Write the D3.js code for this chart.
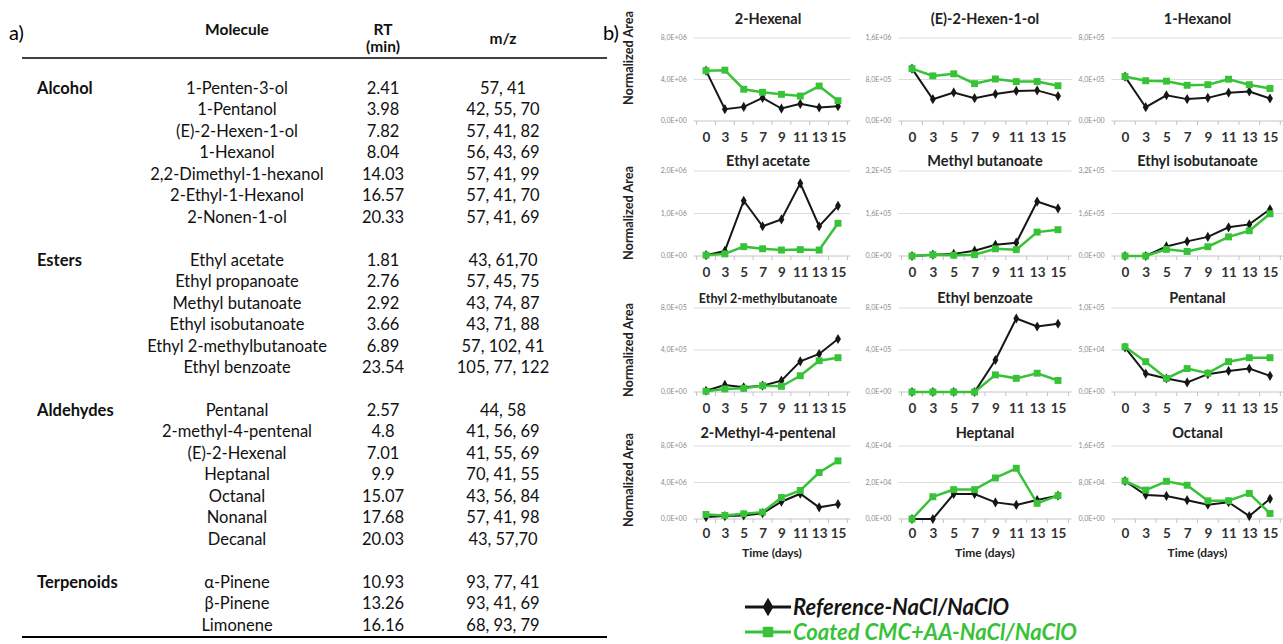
<!DOCTYPE html>
<html>
<head>
<meta charset="utf-8">
<title>Volatile compounds - table and time courses</title>
<script src="https://d3js.org/d3.v7.min.js"></script>
<style>
  body { margin: 0; background: #fff; }
  svg { display: block; font-family: Lato, "Open Sans", sans-serif; }
  .cell { font-size: 16.5px; fill: #111; }
  .head { font-size: 15.5px; font-weight: bold; fill: #111; }
  .grp { font-size: 16.5px; font-weight: bold; fill: #111; }
  .ptitle { font-weight: bold; fill: #222; }
  .ylab { font-size: 7px; fill: #8a8a8a; }
  .xaxis text { font-size: 13.5px; font-weight: bold; fill: #333; font-family: Lato, sans-serif; }
  .axtitle { font-weight: bold; fill: #222; }
</style>
</head>
<body>
<svg id="fig" width="1283" height="644"></svg>
<script>
// ---- table (a) ----
const groups = ["Alcohol", "Esters", "Aldehydes", "Terpenoids"];
const groupSizes = [7, 6, 7, 3];
const molecules = ["1-Penten-3-ol", "1-Pentanol", "(E)-2-Hexen-1-ol", "1-Hexanol", "2,2-Dimethyl-1-hexanol", "2-Ethyl-1-Hexanol", "2-Nonen-1-ol",
  "Ethyl acetate", "Ethyl propanoate", "Methyl butanoate", "Ethyl isobutanoate", "Ethyl 2-methylbutanoate", "Ethyl benzoate",
  "Pentanal", "2-methyl-4-pentenal", "(E)-2-Hexenal", "Heptanal", "Octanal", "Nonanal", "Decanal",
  "α-Pinene", "β-Pinene", "Limonene"];
const rtValues = ["2.41", "3.98", "7.82", "8.04", "14.03", "16.57", "20.33",
  "1.81", "2.76", "2.92", "3.66", "6.89", "23.54",
  "2.57", "4.8", "7.01", "9.9", "15.07", "17.68", "20.03",
  "10.93", "13.26", "16.16"];
const mzValues = ["57, 41", "42, 55, 70", "57, 41, 82", "56, 43, 69", "57, 41, 99", "57, 41, 70", "57, 41, 69",
  "43, 61,70", "57, 45, 75", "43, 74, 87", "43, 71, 88", "57, 102, 41", "105, 77, 122",
  "44, 58", "41, 56, 69", "41, 55, 69", "70, 41, 55", "43, 56, 84", "57, 41, 98", "43, 57,70",
  "93, 77, 41", "93, 41, 69", "68, 93, 79"];

// ---- charts (b) ----
const days = [0, 3, 5, 7, 9, 11, 13, 15];
const compounds = ["2-Hexenal", "(E)-2-Hexen-1-ol", "1-Hexanol",
  "Ethyl acetate", "Methyl butanoate", "Ethyl isobutanoate",
  "Ethyl 2-methylbutanoate", "Ethyl benzoate", "Pentanal",
  "2-Methyl-4-pentenal", "Heptanal", "Octanal"];
const yMaxValues = [8e6, 1.6e6, 8e5, 2e6, 3.2e5, 3.2e5, 8e5, 8e5, 1e5, 8e6, 4e4, 1.6e5];
const referenceValues = [
  [4.85e6, 1.14e6, 1.36e6, 2.23e6, 1.2e6, 1.65e6, 1.3e6, 1.43e6],
  [1.01e6, 0.42e6, 0.55e6, 0.44e6, 0.52e6, 0.58e6, 0.59e6, 0.48e6],
  [4.28e5, 1.33e5, 2.48e5, 2.11e5, 2.23e5, 2.73e5, 2.85e5, 2.17e5],
  [0.02e6, 0.12e6, 1.3e6, 0.7e6, 0.86e6, 1.71e6, 0.7e6, 1.18e6],
  [0, 0.05e5, 0.08e5, 0.2e5, 0.42e5, 0.5e5, 2.05e5, 1.79e5],
  [0, 0, 0.36e5, 0.55e5, 0.72e5, 1.08e5, 1.19e5, 1.76e5],
  [0.12e5, 0.67e5, 0.45e5, 0.6e5, 1.08e5, 2.92e5, 3.62e5, 5.05e5],
  [0, 0, 0, 0, 3.05e5, 7.0e5, 6.24e5, 6.5e5],
  [5.3e4, 2.2e4, 1.61e4, 1.14e4, 2.12e4, 2.51e4, 2.79e4, 1.92e4],
  [0.21e6, 0.32e6, 0.39e6, 0.64e6, 1.89e6, 2.77e6, 1.28e6, 1.63e6],
  [0, 0, 1.37e4, 1.37e4, 0.91e4, 0.77e4, 1.04e4, 1.28e4],
  [8.32e4, 5.27e4, 5.06e4, 4.12e4, 3.14e4, 3.69e4, 0.64e4, 4.42e4]
];
const coatedValues = [
  [4.85e6, 4.9e6, 3.06e6, 2.77e6, 2.57e6, 2.41e6, 3.37e6, 1.96e6],
  [1.01e6, 0.87e6, 0.91e6, 0.72e6, 0.81e6, 0.76e6, 0.76e6, 0.68e6],
  [4.28e5, 3.88e5, 3.84e5, 3.44e5, 3.5e5, 4.03e5, 3.5e5, 3.13e5],
  [0.02e6, 0.05e6, 0.22e6, 0.17e6, 0.14e6, 0.15e6, 0.14e6, 0.77e6],
  [0, 0.05e5, 0.03e5, 0.05e5, 0.27e5, 0.24e5, 0.9e5, 0.99e5],
  [0, 0, 0.25e5, 0.17e5, 0.35e5, 0.72e5, 0.95e5, 1.59e5],
  [0.07e5, 0.29e5, 0.35e5, 0.6e5, 0.54e5, 1.55e5, 2.98e5, 3.27e5],
  [0, 0, 0, 0, 1.63e5, 1.3e5, 1.79e5, 1.1e5],
  [5.38e4, 3.61e4, 1.61e4, 2.79e4, 2.24e4, 3.61e4, 4.08e4, 4.08e4],
  [0.5e6, 0.39e6, 0.57e6, 0.75e6, 2.35e6, 3.13e6, 5.09e6, 6.37e6],
  [0, 1.22e4, 1.61e4, 1.61e4, 2.25e4, 2.78e4, 0.86e4, 1.28e4],
  [8.32e4, 6.34e4, 8.26e4, 7.4e4, 3.99e4, 3.99e4, 5.61e4, 1.21e4]
];
const seriesNames = ["Reference-NaCl/NaClO", "Coated CMC+AA-NaCl/NaClO"];

const black = "#161616", green = "#38c238";
const svg = d3.select("#fig");

// Excel style "8,0E+06"
function sci(v) {
  if (v === 0) return "0,0E+00";
  const e = Math.floor(Math.log10(v) + 1e-9);
  const m = v / Math.pow(10, e);
  return m.toFixed(1).replace(".", ",") + "E+" + String(e).padStart(2, "0");
}

// ---------- table ----------
const tbl = svg.append("g");
tbl.append("text").attr("x", 9).attr("y", 40).style("font-size", "20px").text("a)");

const colMol = 237, colRT = 383, colMZ = 503;
tbl.append("text").attr("class", "head").attr("x", colMol).attr("y", 35).attr("text-anchor", "middle").text("Molecule");
tbl.append("text").attr("class", "head").attr("x", colRT).attr("y", 35).attr("text-anchor", "middle").text("RT");
tbl.append("text").attr("class", "head").attr("x", colRT).attr("y", 52).attr("text-anchor", "middle").text("(min)");
tbl.append("text").attr("class", "head").attr("x", colMZ).attr("y", 44).attr("text-anchor", "middle").text("m/z");
tbl.append("line").attr("x1", 22).attr("x2", 607).attr("y1", 58).attr("y2", 58).attr("stroke", "#000").attr("stroke-width", 1.5);

// build rows, with an empty line between groups
const rows = [];
let line = 0, k = 0;
groups.forEach((g, gi) => {
  for (let j = 0; j < groupSizes[gi]; j++) {
    rows.push({ group: j === 0 ? g : "", mol: molecules[k], rt: rtValues[k], mz: mzValues[k], line: line });
    k++; line++;
  }
  line++;
});
const rowY = d3.scaleLinear().domain([0, 25]).range([88, 625]);

const rg = tbl.selectAll("g.row").data(rows).join("g").attr("class", "row")
  .attr("transform", d => `translate(0,${rowY(d.line)})`);
rg.append("text").attr("class", "grp").attr("x", 37).attr("dy", "0.35em").text(d => d.group);
rg.append("text").attr("class", "cell").attr("x", colMol).attr("dy", "0.35em").attr("text-anchor", "middle").text(d => d.mol);
rg.append("text").attr("class", "cell").attr("x", colRT).attr("dy", "0.35em").attr("text-anchor", "middle").text(d => d.rt);
rg.append("text").attr("class", "cell").attr("x", colMZ).attr("dy", "0.35em").attr("text-anchor", "middle").text(d => d.mz);

tbl.append("line").attr("x1", 22).attr("x2", 607).attr("y1", 637).attr("y2", 637).attr("stroke", "#000").attr("stroke-width", 2);

// ---------- small multiples ----------
svg.append("text").attr("x", 603).attr("y", 40).style("font-size", "20px").text("b)");

const colX = [[706, 838], [912, 1058], [1125, 1270]];
const rowRange = [[121, 38], [256, 171], [392, 308], [519, 446]];
const titleY = [24, 166, 303, 438];
const ylabelY = [58, 213, 350, 480];

compounds.forEach((name, i) => {
  const r = Math.floor(i / 3), c = i % 3;
  const x = d3.scalePoint().domain(days).range(colX[c]);
  const step = x.step();
  const y = d3.scaleLinear().domain([0, yMaxValues[i]]).range(rowRange[r]);
  const left = colX[c][0] - step * 0.65, right = colX[c][1] + step * 0.65;
  const g = svg.append("g");

  const ticks = [0, yMaxValues[i] / 2, yMaxValues[i]];
  g.selectAll("line.grid").data(ticks.slice(1)).join("line").attr("class", "grid")
    .attr("x1", left).attr("x2", right).attr("y1", d => y(d)).attr("y2", d => y(d))
    .attr("stroke", "#dcdcdc").attr("stroke-width", 1);
  g.selectAll("text.ylab").data(ticks).join("text").attr("class", "ylab")
    .attr("x", left - 7).attr("y", d => y(d)).attr("dy", "0.35em").attr("text-anchor", "end")
    .text(sci);

  // x axis: baseline, ticks between categories, bold day labels
  g.append("line").attr("x1", left).attr("x2", right).attr("y1", y(0)).attr("y2", y(0))
    .attr("stroke", "#c4c4c4");
  g.selectAll("line.tk").data(d3.range(days.length + 1)).join("line").attr("class", "tk")
    .attr("x1", j => x(days[0]) - step / 2 + j * step).attr("x2", j => x(days[0]) - step / 2 + j * step)
    .attr("y1", y(0)).attr("y2", y(0) + 4).attr("stroke", "#c4c4c4");
  const ax = g.append("g").attr("class", "xaxis").attr("transform", `translate(0,${y(0)})`)
    .call(d3.axisBottom(x).tickSize(0).tickPadding(r === 3 ? 9 : 11));
  ax.select(".domain").remove();

  const ln = d3.line().x((d, j) => x(days[j])).y(d => y(d));
  g.append("path").datum(referenceValues[i]).attr("d", ln).attr("fill", "none").attr("stroke", black).attr("stroke-width", 2);
  g.selectAll("path.ref").data(referenceValues[i]).join("path").attr("class", "ref")
    .attr("d", d3.symbol(d3.symbolDiamond, 30))
    .attr("transform", (d, j) => `translate(${x(days[j])},${y(d)})`).attr("fill", black);
  g.append("path").datum(coatedValues[i]).attr("d", ln).attr("fill", "none").attr("stroke", green).attr("stroke-width", 2.5);
  g.selectAll("path.coat").data(coatedValues[i]).join("path").attr("class", "coat")
    .attr("d", d3.symbol(d3.symbolSquare, 48))
    .attr("transform", (d, j) => `translate(${x(days[j])},${y(d)})`).attr("fill", green);

  g.append("text").attr("class", "ptitle")
    .attr("x", (left + right) / 2 - (c === 0 ? 4 : 0)).attr("y", titleY[r])
    .attr("text-anchor", "middle").style("font-size", name.length > 20 ? "12.5px" : "14.5px")
    .text(name);

  if (c === 0) {
    g.append("text").attr("class", "axtitle")
      .attr("transform", `translate(628,${ylabelY[r]}) rotate(-90)`)
      .attr("text-anchor", "middle").attr("dy", "0.35em").style("font-size", "14px")
      .attr("textLength", 94).attr("lengthAdjust", "spacingAndGlyphs").text("Normalized Area");
  }
  if (r === 3) {
    g.append("text").attr("class", "axtitle").attr("x", (left + right) / 2).attr("y", 557)
      .attr("text-anchor", "middle").style("font-size", "12px").text("Time (days)");
  }
});

// ---------- legend ----------
const lg = svg.append("g").attr("transform", "translate(745,0)");
const legY = [607, 632];
seriesNames.forEach((s, i) => {
  const col = i === 0 ? black : green;
  lg.append("line").attr("x1", 0).attr("x2", 46).attr("y1", legY[i]).attr("y2", legY[i])
    .attr("stroke", col).attr("stroke-width", 3);
  lg.append("path").attr("d", d3.symbol(i === 0 ? d3.symbolDiamond : d3.symbolSquare, i === 0 ? 100 : 110))
    .attr("transform", `translate(23,${legY[i]})`).attr("fill", col);
  lg.append("text").attr("x", 48).attr("y", legY[i]).attr("dy", "0.36em")
    .style("font-size", "22px").style("font-weight", "bold").style("font-style", "italic")
    .attr("fill", col).text(s);
});
</script>
</body>
</html>
